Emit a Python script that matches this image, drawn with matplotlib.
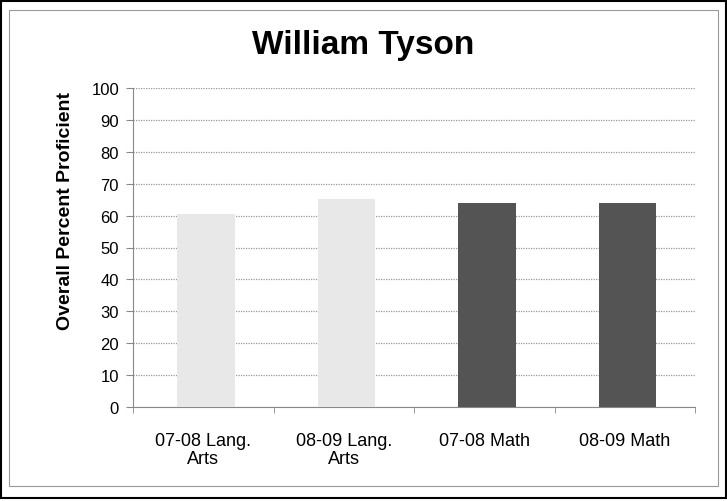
import numpy as np
import matplotlib.pyplot as plt
from matplotlib.patches import Rectangle

plt.rcParams['font.family'] = ['Liberation Sans', 'DejaVu Sans']

categories = ["07-08 Lang.\nArts", "08-09 Lang.\nArts", "07-08 Math", "08-09 Math"]
values     = [60.5, 65.2, 64.1, 63.8]
colors     = ["#e8e8e8", "#e8e8e8", "#545454", "#545454"]

yticks = np.arange(0, 101, 10)

fig = plt.figure(figsize=(7.27, 5.02), dpi=100)
ax = fig.add_axes([133/727, 1-408/502, (695-133)/727, (408-89)/502])

x = np.arange(len(categories))
ax.bar(x + 0.02, values, width=0.41, color=colors, zorder=3)

ax.set_xlim(-0.5, len(categories)-0.5)
ax.set_ylim(0, 100)
ax.set_yticks(yticks)
ax.set_xticks(x)
ax.set_xticklabels(categories, fontsize=13, linespacing=1.1, multialignment='center')
ax.set_xticks(np.arange(-0.5, len(categories)), minor=True)
ax.tick_params(axis='x', which='major', length=0, pad=18)
ax.tick_params(axis='x', which='minor', length=4, color='#888888')
ax.tick_params(axis='y', length=5, color='#888888', labelsize=12, pad=5)

ax.grid(axis='y', color='#999999', linestyle=(0, (1, 1)), linewidth=0.9, zorder=0)
for s in ['top', 'right']:
  ax.spines[s].set_visible(False)
ax.spines['left'].set_color('#888888')
ax.spines['bottom'].set_color('#888888')

# y label sits above the axes centre in the reference
fig.text(66/727, 1-211/502, "Overall Percent Proficient", rotation=90, ha='center', va='center',
         fontsize=14, fontweight='bold')

fig.text(0.5, 0.91, "William Tyson", ha='center', va='center', fontsize=24, fontweight='bold')

fig.patches.append(Rectangle((0.002, 0.006), 0.996, 0.99, transform=fig.transFigure,
                             fill=False, edgecolor='black', linewidth=1.5))
fig.patches.append(Rectangle((0.012, 0.03), 0.976, 0.948, transform=fig.transFigure,
                             fill=False, edgecolor='#999999', linewidth=0.8))

plt.savefig("out.png", dpi=100)
plt.close()
